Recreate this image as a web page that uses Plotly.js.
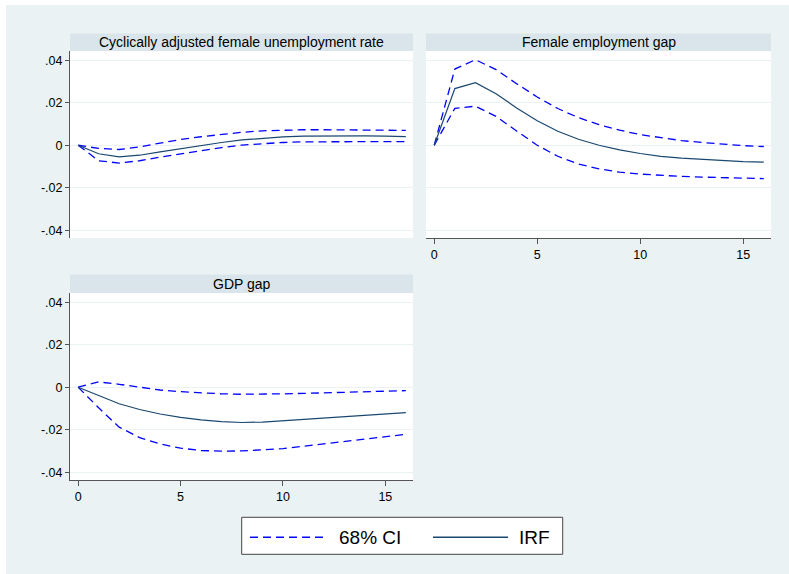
<!DOCTYPE html>
<html>
<head>
<meta charset="utf-8">
<script src="https://cdn.plot.ly/plotly-3.0.1.min.js"></script>
<style>
html, body { margin: 0; padding: 0; background: #ffffff; width: 789px; height: 574px; overflow: hidden; }
#chart { position: absolute; left: 6px; top: 5px; width: 783px; height: 569px; }
</style>
</head>
<body>
<div id="chart"></div>
<script>
// Horizon (periods)
const horizon = [0, 1, 2, 3, 4, 5, 6, 7, 8, 9, 10, 11, 12, 13, 14, 15, 16];

// Panel titles
const panelTitles = ["Cyclically adjusted female unemployment rate", "Female employment gap", "GDP gap"];

// Cyclically adjusted female unemployment rate
const unempIRF = [0, -0.0040, -0.0055, -0.0047, -0.0031, -0.0016, 0.0000, 0.0013, 0.0025, 0.0033, 0.0039, 0.0043, 0.0044, 0.0044, 0.0044, 0.0043, 0.0041];
const unempHi  = [0, -0.0015, -0.0020, -0.0008, 0.0010, 0.0027, 0.0040, 0.0051, 0.0061, 0.0068, 0.0072, 0.0073, 0.0073, 0.0073, 0.0072, 0.0071, 0.0070];
const unempLo  = [0, -0.0073, -0.0084, -0.0073, -0.0056, -0.0040, -0.0024, -0.0011, 0.0001, 0.0008, 0.0013, 0.0016, 0.0017, 0.0017, 0.0017, 0.0017, 0.0017];

// Female employment gap
const empIRF = [0, 0.0267, 0.0295, 0.0243, 0.0176, 0.0115, 0.0066, 0.0028, 0.0000, -0.0022, -0.0039, -0.0052, -0.0061, -0.0067, -0.0073, -0.0077, -0.0080];
const empHi  = [0, 0.0359, 0.0403, 0.0356, 0.0290, 0.0227, 0.0173, 0.0130, 0.0097, 0.0071, 0.0050, 0.0035, 0.0022, 0.0013, 0.0005, -0.0002, -0.0006];
const empLo  = [0, 0.0174, 0.0184, 0.0136, 0.0067, 0.0000, -0.0052, -0.0088, -0.0111, -0.0127, -0.0136, -0.0143, -0.0147, -0.0150, -0.0154, -0.0155, -0.0157];

// GDP gap
const gdpIRF = [0, -0.0040, -0.0078, -0.0105, -0.0126, -0.0142, -0.0154, -0.0162, -0.0166, -0.0164, -0.0158, -0.0151, -0.0144, -0.0137, -0.0131, -0.0125, -0.0120];
const gdpHi  = [0, 0.0025, 0.0014, 0.0000, -0.0013, -0.0021, -0.0027, -0.0031, -0.0033, -0.0033, -0.0031, -0.0029, -0.0027, -0.0025, -0.0022, -0.0019, -0.0016];
const gdpLo  = [0, -0.0097, -0.0188, -0.0237, -0.0267, -0.0287, -0.0298, -0.0301, -0.0300, -0.0296, -0.0289, -0.0278, -0.0267, -0.0256, -0.0245, -0.0234, -0.0222];

// Tick labels
const yTickVals = [-0.04, -0.02, 0, 0.02, 0.04];
const yTickText = ["-.04", "-.02", "0", ".02", ".04"];
const xTickVals = [0, 5, 10, 15];
const xTickText = ["0", "5", "10", "15"];

// Legend labels
const legendLabels = ["68% CI", "IRF"];

const ciColor = "#0000ff";
const irfColor = "#1a476f";
const FONT = "Liberation Sans, Arial, Helvetica, sans-serif";

function ci(y, xa, ya) {
  return { x: horizon, y: y, xaxis: xa, yaxis: ya, mode: "lines", type: "scatter",
    name: legendLabels[0], showlegend: false, hoverinfo: "skip",
    line: { color: ciColor, width: 1.3, dash: "8px,5px" } };
}
function irf(y, xa, ya) {
  return { x: horizon, y: y, xaxis: xa, yaxis: ya, mode: "lines", type: "scatter",
    name: legendLabels[1], showlegend: false, hoverinfo: "skip",
    line: { color: irfColor, width: 1.2 } };
}

const data = [
  ci(unempHi, "x", "y"), ci(unempLo, "x", "y"), irf(unempIRF, "x", "y"),
  ci(empHi, "x2", "y2"), ci(empLo, "x2", "y2"), irf(empIRF, "x2", "y2"),
  ci(gdpHi, "x3", "y3"), ci(gdpLo, "x3", "y3"), irf(gdpIRF, "x3", "y3")
];

const W = 783, H = 569;
const px = v => v / W;
const py = v => 1 - v / H;

const dLeft = [px(64), px(407)];
const dRight = [px(420), px(765)];
const dTop = [py(233), py(46)];
const dBot = [py(475), py(288)];

const xr = [-0.4, 16.35];
const yr = [-0.0437, 0.0444];
const axisColor = "#555555";
const tickFont = { family: FONT, size: 12.5, color: "#000000" };

function yAxis(domain, anchor, showLine) {
  return { domain: domain, anchor: anchor, range: yr, tickvals: yTickVals, ticktext: yTickText,
    showline: showLine, linecolor: axisColor, linewidth: 1,
    ticks: showLine ? "outside" : "", ticklen: 4, tickcolor: axisColor, tickwidth: 1,
    showticklabels: showLine, tickfont: tickFont,
    showgrid: true, gridcolor: "#eaf2f3", gridwidth: 1, zeroline: false, fixedrange: true };
}
function xAxis(domain, anchor, showLine) {
  return { domain: domain, anchor: anchor, range: xr, tickvals: xTickVals, ticktext: xTickText,
    showline: showLine, linecolor: axisColor, linewidth: 1,
    ticks: showLine ? "outside" : "", ticklen: 5, tickcolor: axisColor, tickwidth: 1,
    showticklabels: showLine, tickfont: tickFont,
    showgrid: false, zeroline: false, fixedrange: true };
}

const stripColor = "#d9e5ea";
const strips = [
  { x: dLeft, y: [py(46), py(28.5)] },
  { x: dRight, y: [py(46), py(28.5)] },
  { x: dLeft, y: [py(288), py(269.5)] }
];
const shapes = strips.map(s => ({ type: "rect", xref: "paper", yref: "paper",
  x0: s.x[0], x1: s.x[1], y0: s.y[0], y1: s.y[1], fillcolor: stripColor, line: { width: 0 }, layer: "below" }));

const annotations = strips.map((s, i) => ({ xref: "paper", yref: "paper",
  x: (s.x[0] + s.x[1]) / 2, y: (s.y[0] + s.y[1]) / 2, xanchor: "center", yanchor: "middle",
  text: panelTitles[i], showarrow: false, font: { family: FONT, size: 14, color: "#000000" } }));

// Legend box (drawn as shapes + text)
shapes.push({ type: "rect", xref: "paper", yref: "paper", x0: px(235.7), x1: px(556.7), y0: py(549.3), y1: py(512.3),
  fillcolor: "#ffffff", line: { color: "#444444", width: 1 } });
shapes.push({ type: "line", xref: "paper", yref: "paper", x0: px(244), x1: px(319), y0: py(532.3), y1: py(532.3),
  line: { color: ciColor, width: 1.5, dash: "8px,5px" } });
shapes.push({ type: "line", xref: "paper", yref: "paper", x0: px(427), x1: px(502), y0: py(532.3), y1: py(532.3),
  line: { color: irfColor, width: 1.5 } });
annotations.push({ xref: "paper", yref: "paper", x: px(330.5), y: py(532.3), xanchor: "left", yanchor: "middle",
  text: legendLabels[0], showarrow: false, font: { family: FONT, size: 19, color: "#000000" } });
annotations.push({ xref: "paper", yref: "paper", x: px(511), y: py(532.3), xanchor: "left", yanchor: "middle",
  text: legendLabels[1], showarrow: false, font: { family: FONT, size: 19, color: "#000000" } });

const layout = {
  width: W, height: H,
  margin: { l: 0, r: 0, t: 0, b: 0, pad: 0 },
  paper_bgcolor: "#eaf2f3",
  plot_bgcolor: "#ffffff",
  font: { family: FONT },
  showlegend: false,
  xaxis: xAxis(dLeft, "y", false),
  yaxis: yAxis(dTop, "x", true),
  xaxis2: xAxis(dRight, "y2", true),
  yaxis2: yAxis(dTop, "x2", false),
  xaxis3: xAxis(dLeft, "y3", true),
  yaxis3: yAxis(dBot, "x3", true),
  shapes: shapes,
  annotations: annotations
};

Plotly.newPlot("chart", data, layout, { displayModeBar: false, staticPlot: true });
</script>
</body>
</html>
